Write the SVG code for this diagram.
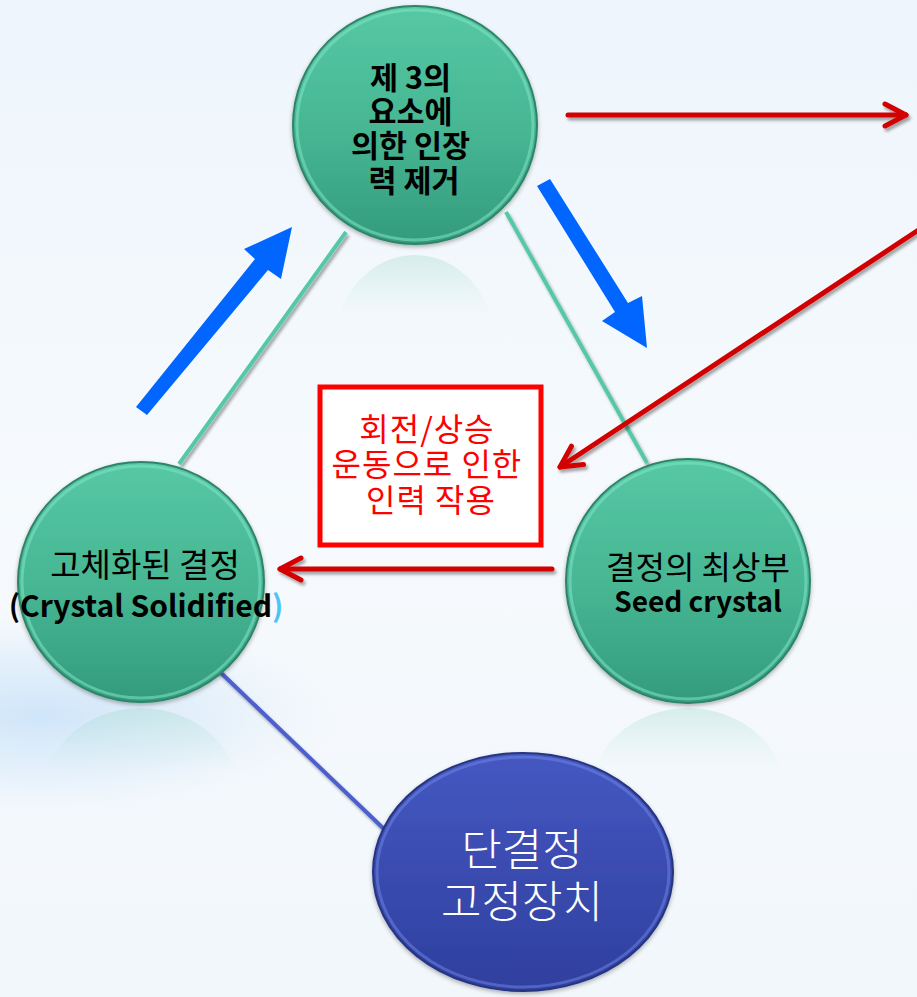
<svg xmlns="http://www.w3.org/2000/svg" width="917" height="997" viewBox="0 0 917 997">
  <defs>
    <linearGradient id="bg" x1="0" y1="0" x2="0" y2="1">
      <stop offset="0" stop-color="#eef5fc"/>
      <stop offset="0.5" stop-color="#f6fafd"/>
      <stop offset="1" stop-color="#f2f7fc"/>
    </linearGradient>
    <radialGradient id="bgBlue" cx="0.5" cy="0.5" r="0.5">
      <stop offset="0" stop-color="#cfe5f9"/>
      <stop offset="0.6" stop-color="#dcecfa" stop-opacity="0.6"/>
      <stop offset="1" stop-color="#e6f1fb" stop-opacity="0"/>
    </radialGradient>
    <linearGradient id="teal" x1="0" y1="0" x2="0" y2="1">
      <stop offset="0" stop-color="#56c8a4"/>
      <stop offset="0.55" stop-color="#46b592"/>
      <stop offset="1" stop-color="#339b7c"/>
    </linearGradient>
    <linearGradient id="blue" x1="0" y1="0" x2="0" y2="1">
      <stop offset="0" stop-color="#4558c2"/>
      <stop offset="1" stop-color="#2f3f9e"/>
    </linearGradient>
    <linearGradient id="refl" x1="0" y1="0" x2="0" y2="1">
      <stop offset="0" stop-color="#8fd4bf" stop-opacity="0.3"/>
      <stop offset="0.35" stop-color="#b5e2d4" stop-opacity="0"/>
    </linearGradient>
    <filter id="shadow" filterUnits="userSpaceOnUse" x="0" y="0" width="917" height="997">
      <feDropShadow dx="2" dy="3" stdDeviation="1.8" flood-color="#000" flood-opacity="0.35"/>
    </filter>
    <filter id="cshadow" x="-20%" y="-20%" width="140%" height="140%">
      <feDropShadow dx="0" dy="2" stdDeviation="2" flood-color="#000" flood-opacity="0.3"/>
    </filter>
    <marker id="chev" markerUnits="userSpaceOnUse" viewBox="-30 -20 40 40" markerWidth="40" markerHeight="40" refX="0" refY="0" orient="auto" overflow="visible">
      <path d="M-21,-11 L0,0 L-21,11" fill="none" stroke="#d20000" stroke-width="5" stroke-linecap="round" stroke-linejoin="round"/>
    </marker>
  </defs>
  <style>
    .tealline { stroke: #55c9a6; stroke-width: 4; fill: none; }
    .purpline { stroke: #4e5fcf; stroke-width: 4; fill: none; }
    .red { stroke: #d20000; stroke-width: 5; fill: none; stroke-linecap: round; marker-end: url(#chev); }
    .barrow { fill: #0066ff; }
    .circ { fill: url(#teal); stroke: #2e8466; stroke-width: 2; }
    .rim { fill: none; stroke: #7fe3c6; stroke-width: 3; opacity: 0.55; }
    .t { font-family: "Noto Sans CJK KR", "Noto Sans", sans-serif; text-anchor: middle; fill: #000; }
    .b { font-weight: bold; }
    .rt { font-family: "Noto Sans CJK KR", "Noto Sans", sans-serif; text-anchor: middle; fill: #ff0000; font-size: 32px; letter-spacing: 1px; }
    .wt { font-family: "Noto Sans CJK KR", "Noto Sans", sans-serif; text-anchor: middle; fill: #ffffff; font-size: 44px; font-weight: 300; }
  </style>

  <!-- background -->
  <rect x="0" y="0" width="917" height="997" fill="url(#bg)"/>
  <ellipse cx="40" cy="715" rx="300" ry="100" fill="url(#bgBlue)"/>

  <!-- reflections -->
  <g id="reflections">
    <ellipse cx="415" cy="345" rx="80" ry="90" fill="url(#refl)"/>
    <ellipse cx="141" cy="800" rx="100" ry="92" fill="url(#refl)"/>
    <ellipse cx="688" cy="800" rx="100" ry="92" fill="url(#refl)"/>
  </g>

  <!-- connectors -->
  <g id="connectors">
    <line class="tealline" x1="346" y1="232" x2="179" y2="464" filter="url(#shadow)"/>
    <line class="tealline" x1="506" y1="212" x2="647" y2="463" filter="url(#shadow)"/>
    <line class="purpline" x1="218" y1="670" x2="384" y2="829" filter="url(#shadow)"/>
    <line class="red" x1="568" y1="115" x2="906" y2="115" filter="url(#shadow)"/>
    <line class="red" x1="920" y1="229" x2="560" y2="467" filter="url(#shadow)"/>
    <line class="red" x1="552" y1="569" x2="280" y2="569" filter="url(#shadow)"/>
    <polygon class="barrow" points="136,407 147,415 268,270 281,279 292,227 244,249 255,259"/>
    <polygon class="barrow" points="537,186 550,179 628,303 642,296 647,348 602,321 615,312"/>
  </g>

  <!-- nodes -->
  <g id="node-top">
    <ellipse class="circ" cx="415" cy="125" rx="122" ry="119" filter="url(#cshadow)"/>
    <ellipse class="rim" cx="415" cy="125" rx="118" ry="115"/>
    <text class="t b" font-size="30.5">
      <tspan x="414" y="89">제 3의</tspan>
      <tspan x="414" y="123">요소에</tspan>
      <tspan x="414" y="157">의한 인장</tspan>
      <tspan x="414" y="192">력 제거</tspan>
    </text>
  </g>

  <g id="node-left">
    <ellipse class="circ" cx="141" cy="582" rx="123" ry="120" filter="url(#cshadow)"/>
    <ellipse class="rim" cx="141" cy="582" rx="119" ry="116"/>
    <text class="t" font-size="33" x="145" y="577">고체화된 결정</text>
    <text class="t b" font-size="30" x="146" y="617">(Crystal Solidified<tspan fill="#4fc3f7">)</tspan></text>
  </g>

  <g id="node-right">
    <ellipse class="circ" cx="688" cy="581" rx="122" ry="122" filter="url(#cshadow)"/>
    <ellipse class="rim" cx="688" cy="581" rx="118" ry="118"/>
    <text class="t" font-size="32" x="698" y="579">결정의 최상부</text>
    <text class="t b" font-size="28" x="698" y="612">Seed crystal</text>
  </g>

  <g id="node-base">
    <ellipse cx="523" cy="872" rx="150" ry="119" fill="url(#blue)" stroke="#26347f" stroke-width="2" filter="url(#cshadow)"/>
    <ellipse cx="523" cy="872" rx="146" ry="115" fill="none" stroke="#7088e8" stroke-width="3" opacity="0.5"/>
    <text class="wt" x="522" y="866">단결정</text>
    <text class="wt" x="522" y="918">고정장치</text>
  </g>

  <g id="node-label">
    <rect x="320" y="387" width="221" height="158" fill="#ffffff" stroke="#ff0000" stroke-width="5"/>
    <text class="rt">
      <tspan x="431" y="441">회전/상승</tspan>
      <tspan x="431" y="476">운동으로 인한</tspan>
      <tspan x="431" y="512">인력 작용</tspan>
    </text>
  </g>
</svg>
